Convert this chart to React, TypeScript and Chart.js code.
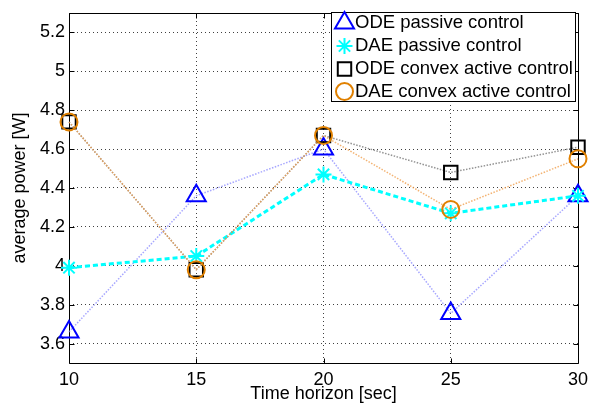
import React, { useEffect, useRef } from "react";
import { Chart, registerables } from "chart.js";
import { drawPoint } from "chart.js/helpers";

Chart.register(...registerables);

const xValues = [10, 15, 20, 25, 30];
const odePassive = [3.66, 4.36, 4.6, 3.755, 4.36];
const daePassive = [3.99, 4.05, 4.47, 4.27, 4.36];
const odeConvex = [4.74, 3.98, 4.67, 4.48, 4.61];
const daeConvex = [4.74, 3.98, 4.67, 4.29, 4.55];
const seriesLabels = [
  "ODE passive control",
  "DAE passive control",
  "ODE convex active control",
  "DAE convex active control",
];
const xTicks = [10, 15, 20, 25, 30];
const yTicks = [3.6, 3.8, 4, 4.2, 4.4, 4.6, 4.8, 5, 5.2];
const xTitle = "Time horizon [sec]";
const yTitle = "average power [W]";

const FONT = "'Liberation Sans', Arial, Helvetica, sans-serif";

const boxPlugin = {
  id: "matlabBox",
  beforeDatasetsDraw(chart: any) {
    const { ctx, chartArea } = chart;
    const l = Math.round(chartArea.left) + 0.5;
    const r = Math.round(chartArea.right) + 0.5;
    const t = Math.round(chartArea.top) + 0.5;
    const b = Math.round(chartArea.bottom) + 0.5;
    ctx.save();
    ctx.strokeStyle = "#000";
    ctx.lineWidth = 1;
    ctx.beginPath();
    ctx.rect(l, t, r - l, b - t);
    const tl = 5;
    const xs = chart.scales.x;
    const ys = chart.scales.y;
    xs.ticks.forEach((tk: any) => {
      const px = Math.round(xs.getPixelForValue(tk.value)) + 0.5;
      ctx.moveTo(px, b);
      ctx.lineTo(px, b - tl);
      ctx.moveTo(px, t);
      ctx.lineTo(px, t + tl);
    });
    ys.ticks.forEach((tk: any) => {
      const py = Math.round(ys.getPixelForValue(tk.value)) + 0.5;
      ctx.moveTo(l, py);
      ctx.lineTo(l + tl, py);
      ctx.moveTo(r, py);
      ctx.lineTo(r - tl, py);
    });
    ctx.stroke();
    ctx.restore();
  },
  afterDraw(chart: any) {
    const { ctx } = chart;
    const bx = 331.5;
    const by = 12.5;
    const bw = 244;
    const bh = 89;
    ctx.save();
    ctx.fillStyle = "#fff";
    ctx.fillRect(bx, by, bw, bh);
    ctx.strokeStyle = "#000";
    ctx.lineWidth = 1;
    ctx.strokeRect(bx, by, bw, bh);
    const rows = [23, 46, 69, 91.5];
    chart.data.datasets.forEach((ds: any, i: number) => {
      const y = rows[i];
      ctx.save();
      ctx.strokeStyle = ds.pointBorderColor;
      ctx.fillStyle = "rgba(0,0,0,0)";
      ctx.lineWidth = ds.pointBorderWidth;
      drawPoint(ctx, { pointStyle: ds.pointStyle, radius: ds.pointRadius, borderWidth: ds.pointBorderWidth, rotation: 0 } as any, 344.5, y);
      ctx.restore();
      ctx.fillStyle = "#000";
      ctx.font = `18.5px ${FONT}`;
      ctx.textBaseline = "middle";
      ctx.textAlign = "left";
      ctx.fillText(ds.label, 355, y);
    });
    ctx.restore();
  },
};

export default function App() {
  const ref = useRef<HTMLCanvasElement>(null);
  useEffect(() => {
    if (!ref.current) return;
    const mk = (
      label: string,
      data: number[],
      lineColor: string,
      dash: number[],
      lineWidth: number,
      pointStyle: string,
      pointColor: string,
      radius: number,
      order: number
    ) => ({
      label,
      data: xValues.map((x, i) => ({ x, y: data[i] })),
      borderColor: lineColor,
      borderDash: dash,
      borderWidth: lineWidth,
      pointStyle,
      pointBorderColor: pointColor,
      pointBackgroundColor: "rgba(0,0,0,0)",
      pointBorderWidth: 2,
      pointRadius: radius,
      pointHoverRadius: radius,
      fill: false,
      tension: 0,
      clip: false,
      order,
    });
    const chart = new Chart(ref.current, {
      type: "line",
      data: {
        datasets: [
          mk(seriesLabels[0], odePassive, "rgba(130,130,255,0.7)", [1.5, 1.5], 1.5, "triangle", "#0000ff", 11, 3),
          mk(seriesLabels[1], daePassive, "#00ffff", [5, 3], 3, "star", "#00ffff", 8, 2),
          mk(seriesLabels[2], odeConvex, "rgba(120,120,120,0.8)", [1.5, 1.5], 1.5, "rect", "#000000", 9.5, 1),
          mk(seriesLabels[3], daeConvex, "rgba(240,160,80,0.8)", [1.5, 1.5], 1.5, "circle", "#e08000", 8.5, 0),
        ] as any,
      },
      options: {
        animation: false,
        responsive: true,
        maintainAspectRatio: false,
        layout: { padding: { left: 0, right: 13, top: 9, bottom: 0 } },
        plugins: { legend: { display: false }, tooltip: { enabled: false } },
        scales: {
          x: {
            type: "linear",
            min: 10,
            max: 30,
            afterBuildTicks: (s: any) => {
              s.ticks = xTicks.map((v) => ({ value: v }));
            },
            afterFit: (s: any) => {
              s.height = 44;
              s.paddingLeft = 0;
              s.paddingRight = 0;
            },
            ticks: {
              color: "#000",
              font: { family: FONT, size: 18 },
              padding: 6,
              maxRotation: 0,
              callback: (v: any) => String(v),
            },
            grid: { color: "rgba(0,0,0,0.75)", lineWidth: 1, drawTicks: false },
            border: { display: false, dash: [1, 3] },
            title: {
              display: true,
              text: xTitle,
              color: "#000",
              font: { family: FONT, size: 18 },
              padding: { top: 0, bottom: 2 },
            },
          },
          y: {
            type: "linear",
            min: 3.5,
            max: 5.3,
            afterBuildTicks: (s: any) => {
              s.ticks = yTicks.map((v) => ({ value: v }));
            },
            afterFit: (s: any) => {
              s.width = 69;
              s.paddingTop = 0;
              s.paddingBottom = 0;
            },
            ticks: {
              color: "#000",
              font: { family: FONT, size: 18 },
              padding: 4,
              callback: (v: any) => String(v),
            },
            grid: { color: "rgba(0,0,0,0.75)", lineWidth: 1, drawTicks: false },
            border: { display: false, dash: [1, 3] },
            title: {
              display: true,
              text: yTitle,
              color: "#000",
              font: { family: FONT, size: 18 },
              padding: { top: 9, bottom: 0 },
            },
          },
        },
      },
      plugins: [boxPlugin],
    });
    return () => chart.destroy();
  }, []);
  return (
    <div style={{ position: "absolute", left: 0, top: 0, width: 591, height: 407, background: "#fff" }}>
      <canvas ref={ref} />
    </div>
  );
}
